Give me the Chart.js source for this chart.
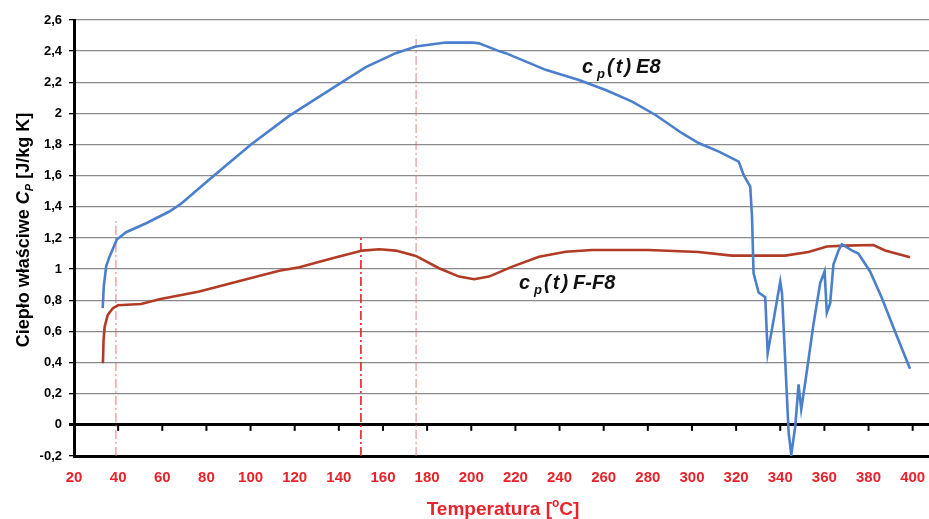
<!DOCTYPE html>
<html>
<head>
<meta charset="utf-8">
<script src="https://cdn.jsdelivr.net/npm/chart.js@4.4.1/dist/chart.umd.min.js"></script>
<style>
    html, body { margin: 0; padding: 0; background: #fff; }
    #wrap { width: 929px; height: 519px; position: relative; }
</style>
</head>
<body>
<div id="wrap"><canvas id="cpChart"></canvas></div>
<script>
// Axis ticks
const xTicks = [20, 40, 60, 80, 100, 120, 140, 160, 180, 200, 220, 240, 260, 280, 300, 320, 340, 360, 380, 400];
const yTicks = [-0.2, 0, 0.2, 0.4, 0.6, 0.8, 1, 1.2, 1.4, 1.6, 1.8, 2, 2.2, 2.4, 2.6];
const yTickLabels = ['-0,2', '0', '0,2', '0,4', '0,6', '0,8', '1', '1,2', '1,4', '1,6', '1,8', '2', '2,2', '2,4', '2,6'];

// c_p(t) E8  (temperature, value)
const e8Temp = [33.0, 33.5, 34.6, 36.1, 39.4, 43.6, 52.7, 63.2, 68.5, 82.8, 100.2, 117.5, 140.2, 152.2, 165.8, 174.9,
    188.4, 200.5, 203.5, 212.6, 215.6, 233.7, 248.8, 260.9, 272.9, 283.5, 295.5, 303.0, 312.2, 321.2, 323.4, 326.4,
    327.2, 327.9, 330.2, 333.2, 334.3, 336.2, 340.0, 340.8, 342.6, 343.8, 345.0, 346.8, 348.3, 349.5, 351.3, 355.1,
    358.1, 360.1, 361.1, 362.6, 364.1, 366.4, 367.9, 372.4, 375.4, 380.7, 385.9, 392.0, 398.8];
const e8Cp = [0.75, 0.89, 1.02, 1.08, 1.19, 1.237, 1.295, 1.37, 1.42, 1.594, 1.80, 1.984, 2.19, 2.297, 2.387, 2.43,
    2.455, 2.455, 2.45, 2.40, 2.387, 2.28, 2.215, 2.15, 2.076, 1.99, 1.873, 1.81, 1.755, 1.69, 1.605, 1.53,
    1.34, 0.975, 0.85, 0.82, 0.46, 0.61, 0.92, 0.845, 0.31, -0.05, -0.19, -0.01, 0.26, 0.10, 0.27, 0.65,
    0.91, 0.985, 0.72, 0.78, 1.03, 1.12, 1.16, 1.12, 1.10, 0.985, 0.82, 0.60, 0.36];

// c_p(t) F-F8
const ff8Temp = [33.1, 33.4, 33.9, 35.3, 37.6, 39.9, 50.4, 58.7, 76.8, 99.4, 113.0, 122.1, 137.1, 150.7, 158.3, 165.8,
    174.9, 185.4, 194.5, 201.3, 208.0, 218.6, 230.7, 242.8, 254.9, 272.9, 280.4, 302.9, 318.1, 342.2, 352.8, 361.1,
    369.4, 382.2, 387.5, 398.8];
const ff8Cp = [0.396, 0.545, 0.63, 0.706, 0.749, 0.768, 0.776, 0.807, 0.856, 0.94, 0.99, 1.012, 1.07, 1.119, 1.128, 1.119,
    1.085, 1.006, 0.952, 0.935, 0.952, 1.016, 1.08, 1.112, 1.123, 1.123, 1.123, 1.11, 1.087, 1.087, 1.11, 1.145,
    1.151, 1.155, 1.12, 1.076];

// vertical dash-dot marker lines
const markerTemp = [39, 150, 175];
const markerTop = [1.33, 1.22, 2.5];
const markerColor = ['rgba(228, 95, 95, 0.85)', '#e8202a', 'rgba(225, 110, 110, 0.85)'];
const markerWidth = [1, 1.6, 1];

const RED = '#e8232b';
const SANS = "'Liberation Sans', Arial, sans-serif";
const NARROW = "'Liberation Sans Narrow', 'Arial Narrow', 'Liberation Sans', sans-serif";

function toPoints(xs, ys) {
    return xs.map((x, i) => ({ x: x, y: ys[i] }));
}

const markerSets = markerTemp.map((t, i) => ({
    data: [{ x: t, y: -0.2 }, { x: t, y: markerTop[i] }],
    borderColor: markerColor[i],
    borderWidth: markerWidth[i],
    borderDash: [9, 3, 2, 3],
    pointRadius: 0,
    order: 3
}));

// draws pieces of text one after another, with offsets for sub/superscripts
function drawPieces(ctx, pieces, startX, baseY, align) {
    let total = 0;
    pieces.forEach(p => { ctx.font = p.font; total += ctx.measureText(p.text).width + (p.gap || 0); });
    let x = align === 'center' ? startX - total / 2 : startX;
    pieces.forEach(p => {
        ctx.font = p.font;
        ctx.fillText(p.text, x, baseY + (p.dy || 0));
        x += ctx.measureText(p.text).width + (p.gap || 0);
    });
}

function caption(name) {
    const bi = 'italic bold 20px ' + SANS;
    const sub = 'italic bold 13px ' + SANS;
    return [
        { text: 'c', font: bi, gap: 4 },
        { text: 'p', font: sub, dy: 5, gap: 2 },
        { text: '(', font: bi, gap: 2 },
        { text: 't', font: bi, gap: 2 },
        { text: ')', font: bi, gap: 5 },
        { text: name, font: bi }
    ];
}

const decorPlugin = {
    id: 'decor',
    afterDatasetsDraw(chart) {
        const { ctx, scales } = chart;
        const x = scales.x, y = scales.y;
        const y0 = y.getPixelForValue(0);
        ctx.save();
        // tick marks hanging under the zero line
        ctx.strokeStyle = '#000';
        ctx.lineWidth = 2;
        xTicks.slice(1).forEach(v => {
            const px = x.getPixelForValue(v);
            ctx.beginPath();
            ctx.moveTo(px, y0);
            ctx.lineTo(px, y0 + 6);
            ctx.stroke();
        });
        ctx.restore();
    },
    afterDraw(chart) {
        const ctx = chart.ctx;
        ctx.save();
        ctx.textBaseline = 'alphabetic';

        // series captions
        ctx.fillStyle = '#111';
        drawPieces(ctx, caption('E8'), 582, 73);
        drawPieces(ctx, caption('F-F8'), 519, 289);

        // y axis title
        ctx.save();
        ctx.translate(22, 230);
        ctx.rotate(-Math.PI / 2);
        ctx.fillStyle = '#000';
        drawPieces(ctx, [
            { text: 'Ciepło właściwe ', font: 'bold 18px ' + SANS },
            { text: 'C', font: 'italic bold 18px ' + SANS },
            { text: 'P', font: 'italic bold 11px ' + SANS, dy: 4 },
            { text: ' [J/kg K]', font: 'bold 18px ' + SANS }
        ], 0, 7, 'center');
        ctx.restore();

        // x axis title
        ctx.fillStyle = RED;
        drawPieces(ctx, [
            { text: 'Temperatura [', font: 'bold 19px ' + NARROW },
            { text: 'o', font: 'bold 12px ' + NARROW, dy: -8 },
            { text: 'C]', font: 'bold 19px ' + NARROW }
        ], 503, 515, 'center');
        ctx.restore();
    }
};

const chartCtx = document.getElementById('cpChart').getContext('2d');
new Chart(chartCtx, {
    type: 'line',
    data: {
        datasets: [
            {
                label: 'cp(t) E8',
                data: toPoints(e8Temp, e8Cp),
                borderColor: '#4a7fcc',
                borderWidth: 2.6,
                pointRadius: 0,
                tension: 0,
                order: 1
            },
            {
                label: 'cp(t) F-F8',
                data: toPoints(ff8Temp, ff8Cp),
                borderColor: '#b23b25',
                borderWidth: 2.6,
                pointRadius: 0,
                tension: 0,
                order: 2
            },
            ...markerSets
        ]
    },
    options: {
        responsive: true,
        maintainAspectRatio: false,
        animation: false,
        layout: { padding: { left: 0, right: 0, top: 20, bottom: 0 } },
        plugins: {
            legend: { display: false },
            tooltip: { enabled: false }
        },
        scales: {
            x: {
                type: 'linear',
                min: 20,
                max: 407.4,
                afterBuildTicks: s => { s.ticks = xTicks.map(v => ({ value: v })); },
                afterFit: s => { s.height = 63; s.paddingLeft = 0; s.paddingRight = 0; },
                grid: { drawOnChartArea: false, drawTicks: false },
                border: { display: true, color: '#000', width: 3 },
                ticks: {
                    color: RED,
                    padding: 13,
                    maxRotation: 0,
                    autoSkip: false,
                    font: { family: NARROW, size: 15, weight: 'bold' }
                }
            },
            y: {
                min: -0.2,
                max: 2.6,
                afterBuildTicks: s => { s.ticks = yTicks.map(v => ({ value: v })); },
                afterFit: s => { s.width = 74; },
                grid: {
                    color: c => (c.tick && (c.tick.value === 0 || c.tick.value === -0.2)) ? '#000' : '#8a8a8a',
                    lineWidth: c => (c.tick && c.tick.value === 0) ? 3 : 1.3,
                    tickColor: '#000',
                    tickLength: 5
                },
                border: { display: true, color: '#000', width: 3 },
                ticks: {
                    color: '#000',
                    padding: 7,
                    autoSkip: false,
                    font: { family: SANS, size: 13, weight: 'bold' },
                    callback: (v, i) => yTickLabels[i]
                }
            }
        }
    },
    plugins: [decorPlugin]
});
</script>
</body>
</html>
